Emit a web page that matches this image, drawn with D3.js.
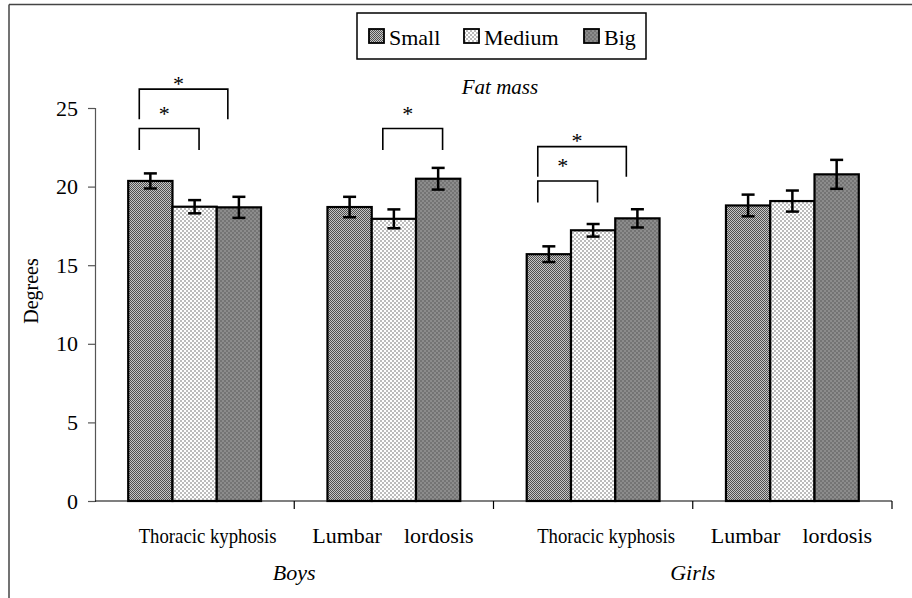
<!DOCTYPE html>
<html><head><meta charset="utf-8">
<script src="https://cdn.jsdelivr.net/npm/d3@7"></script>
<style>
html,body{margin:0;padding:0;background:#fff;}
svg{display:block;}
text{font-family:"Liberation Serif","Times New Roman",serif;fill:#000;}
</style></head>
<body>
<svg id="chart" width="912" height="598"></svg>
<script>
// ---- data ----
const categories = ["Thoracic kyphosis", "Lumbar lordosis", "Thoracic kyphosis", "Lumbar lordosis"];
const sexes = ["Boys", "Girls"];
const seriesNames = ["Small", "Medium", "Big"];
const smallValues = [20.36, 18.70, 15.70, 18.80];
const mediumValues = [18.72, 17.95, 17.22, 19.08];
const bigValues = [18.68, 20.50, 17.98, 20.78];
const smallErrors = [0.48, 0.65, 0.50, 0.69];
const mediumErrors = [0.42, 0.60, 0.40, 0.67];
const bigErrors = [0.67, 0.69, 0.58, 0.92];
const yTicks = [0, 5, 10, 15, 20, 25];
const chartTitle = "Fat mass";
const yTitle = "Degrees";
// significance brackets: category index, from series, to series, bracket level (value), tier
const bracketGroups = [0, 0, 1, 2, 2];
const bracketFrom = [0, 0, 1, 0, 0];
const bracketTo = [1, 2, 2, 1, 2];
const bracketLevels = [23.7, 26.2, 23.7, 20.36, 22.54];
const bracketTiers = [0, 1, 0, 0, 1];

const valuesBySeries = [smallValues, mediumValues, bigValues];
const errorsBySeries = [smallErrors, mediumErrors, bigErrors];

const svg = d3.select("#chart");
const defs = svg.append("defs");

function pattern(id, size, bg, fg, cells) {
  const p = defs.append("pattern").attr("id", id).attr("patternUnits", "userSpaceOnUse")
    .attr("width", size).attr("height", size);
  p.append("rect").attr("width", size).attr("height", size).attr("fill", bg);
  cells.forEach(c => p.append("rect").attr("x", c[0]).attr("y", c[1]).attr("width", c[2]).attr("height", c[2]).attr("fill", fg));
}
pattern("pSmall", 2, "#c6c6c6", "#505050", [[0,0,1],[1,1,1]]);
pattern("pMedium", 4, "#ffffff", "#bcbcbc", [[0,0,2],[2,2,2]]);
pattern("pBig", 4, "#8c8c8c", "#747474", [[0,0,2],[2,2,2]]);
const fills = ["url(#pSmall)", "url(#pMedium)", "url(#pBig)"];

// frame
svg.append("line").attr("x1", 9).attr("x2", 912).attr("y1", 4.5).attr("y2", 4.5).attr("stroke", "#444").attr("stroke-width", 1.5);
svg.append("line").attr("x1", 9).attr("x2", 9).attr("y1", 4.5).attr("y2", 598).attr("stroke", "#444").attr("stroke-width", 1.5);

const plotLeft = 95, plotRight = 892, plotTop = 108, plotBottom = 501;
const x = d3.scaleBand().domain(d3.range(categories.length)).range([plotLeft, plotRight]).padding(0);
const y = d3.scaleLinear().domain([0, 25]).range([plotBottom, plotTop]);
const gw = x.bandwidth();
const bw = gw / 4.5;
const inner = d3.scaleBand().domain(d3.range(seriesNames.length)).range([0.75 * bw, gw - 0.75 * bw]).padding(0);
const barCenter = (g, s) => x(g) + inner(s) + inner.bandwidth() / 2;

// bars
seriesNames.forEach((name, s) => {
  const gS = svg.append("g");
  gS.selectAll("rect").data(valuesBySeries[s]).join("rect")
    .attr("x", (d, i) => x(i) + inner(s))
    .attr("y", d => y(d))
    .attr("width", inner.bandwidth())
    .attr("height", d => y(0) - y(d))
    .attr("fill", fills[s])
    .attr("stroke", "#000").attr("stroke-width", 2.2);
});
// error bars
seriesNames.forEach((name, s) => {
  const gE = svg.append("g").attr("stroke", "#000").attr("stroke-width", 2.5);
  valuesBySeries[s].forEach((v, i) => {
    const e = errorsBySeries[s][i];
    const cx = barCenter(i, s);
    gE.append("line").attr("x1", cx).attr("x2", cx).attr("y1", y(v + e)).attr("y2", y(v - e));
    gE.append("line").attr("x1", cx - 6.5).attr("x2", cx + 6.5).attr("y1", y(v + e)).attr("y2", y(v + e));
    gE.append("line").attr("x1", cx - 6.5).attr("x2", cx + 6.5).attr("y1", y(v - e)).attr("y2", y(v - e));
  });
});

// y axis
const yAxis = svg.append("g").attr("transform", `translate(${plotLeft},0)`)
  .call(d3.axisLeft(y).tickValues(yTicks).tickSize(7).tickPadding(10));
yAxis.select(".domain").attr("stroke", "#555").attr("stroke-width", 1.2);
yAxis.selectAll(".tick line").attr("stroke", "#555").attr("stroke-width", 1.2);
yAxis.selectAll(".tick text").attr("font-size", 22).attr("font-family", "Liberation Serif").attr("fill", "#000");

// x axis
const xAxis = svg.append("g").attr("transform", `translate(0,${plotBottom})`);
xAxis.append("line").attr("x1", plotLeft).attr("x2", plotRight).attr("stroke", "#000").attr("stroke-width", 1.2);
xAxis.selectAll("line.tk").data(d3.range(1, categories.length + 1)).join("line").attr("class", "tk")
  .attr("x1", i => plotLeft + i * gw).attr("x2", i => plotLeft + i * gw).attr("y1", 0).attr("y2", 8)
  .attr("stroke", "#000").attr("stroke-width", 1.2);

categories.forEach((c, i) => {
  const cx = x(i) + gw / 2;
  if (c.startsWith("Thoracic")) {
    svg.append("text").attr("x", cx + 13).attr("y", 543).attr("text-anchor", "middle").attr("font-size", 21)
      .attr("textLength", 138).attr("lengthAdjust", "spacingAndGlyphs").text(c);
  } else {
    const parts = c.split(" ");
    svg.append("text").attr("x", cx - 12).attr("y", 543).attr("text-anchor", "end").attr("font-size", 22).text(parts[0]);
    svg.append("text").attr("x", cx + 10).attr("y", 543).attr("text-anchor", "start").attr("font-size", 22).text(parts[1]);
  }
});
sexes.forEach((s, k) => {
  svg.append("text").attr("x", plotLeft + (2 * k + 1) * gw).attr("y", 580).attr("text-anchor", "middle")
    .attr("font-size", 22).attr("font-style", "italic").text(s);
});

// y title
svg.append("text").attr("transform", "translate(38,291) rotate(-90)").attr("text-anchor", "middle")
  .attr("font-size", 20).text(yTitle);
// chart title
svg.append("text").attr("x", 500).attr("y", 94).attr("text-anchor", "middle").attr("font-size", 21)
  .attr("font-style", "italic").text(chartTitle);

// brackets
const gB = svg.append("g");
bracketGroups.forEach((g, k) => {
  const tier = bracketTiers[k];
  const x1 = barCenter(g, bracketFrom[k]) - 0.25 * bw;
  const x2 = tier === 0 ? barCenter(g, bracketTo[k]) + 0.1 * bw : barCenter(g, bracketTo[k]) - 0.25 * bw;
  const yt = y(bracketLevels[k]);
  const drop = tier === 0 ? 21.5 : 30;
  gB.append("path").attr("d", `M${x1},${yt + drop}V${yt}H${x2}V${yt + drop}`)
    .attr("fill", "none").attr("stroke", "#000").attr("stroke-width", 1.6);
  const lift = tier === 0 ? 17.5 : 8.5;
  gB.append("text").attr("x", (x1 + x2) / 2 - 5).attr("y", yt - lift + 10).attr("text-anchor", "middle")
    .attr("font-size", 22).text("*");
});

// legend
const lg = svg.append("g");
lg.append("rect").attr("x", 357).attr("y", 13).attr("width", 289).attr("height", 46)
  .attr("fill", "#fff").attr("stroke", "#000").attr("stroke-width", 1.5);
const legendX = [369, 464, 584];
seriesNames.forEach((n, s) => {
  lg.append("rect").attr("x", legendX[s]).attr("y", 29).attr("width", 15).attr("height", 14)
    .attr("fill", fills[s]).attr("stroke", "#000").attr("stroke-width", 1.8);
  lg.append("text").attr("x", legendX[s] + 20).attr("y", 45).attr("font-size", 22).text(n);
});
</script>
</body></html>
